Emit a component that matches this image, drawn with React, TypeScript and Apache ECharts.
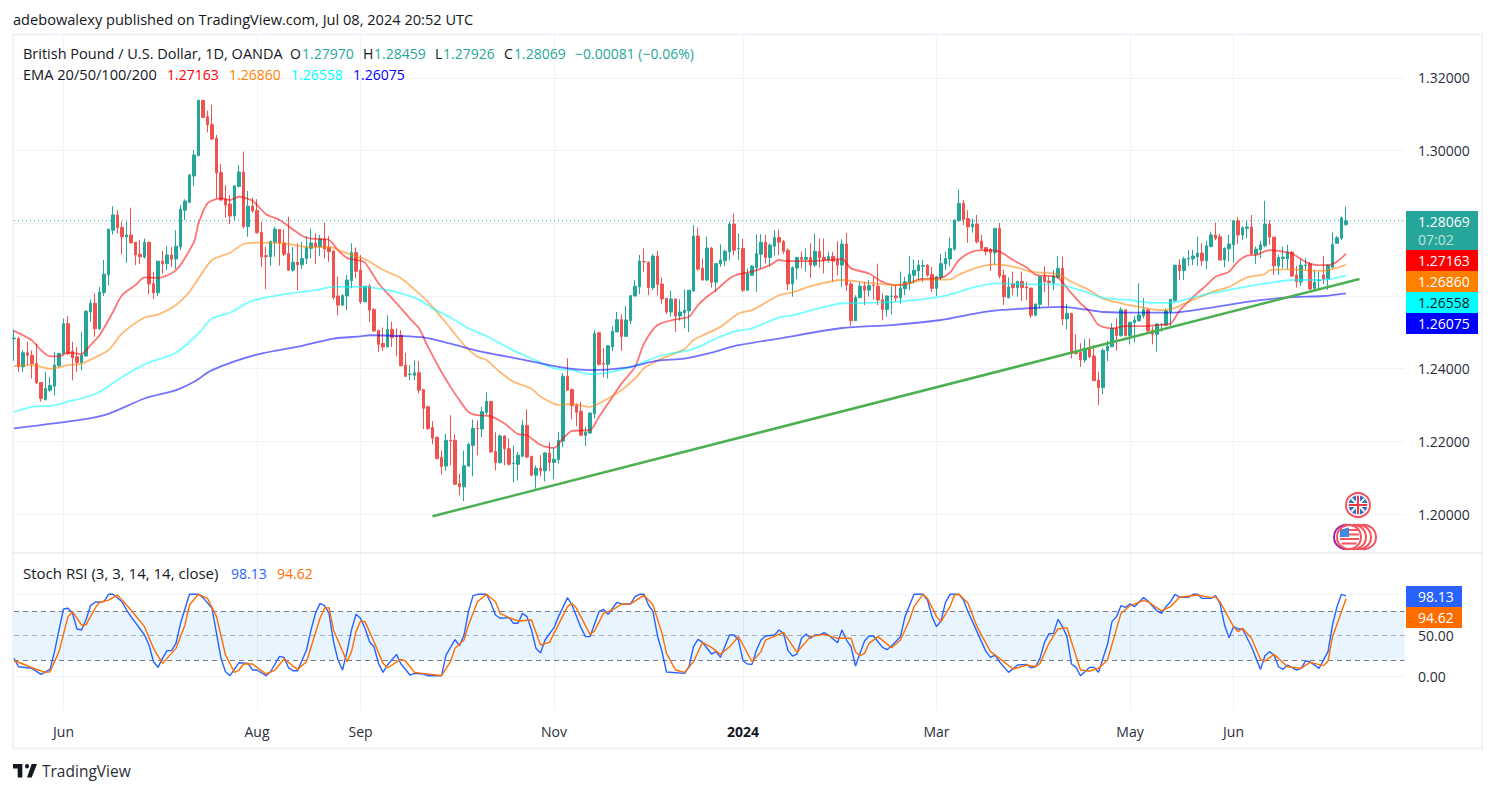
import React, { useEffect, useRef } from "react";
import * as echarts from "echarts";

// OHLC in pips (price x 10000): [open, high, low, close]
const ohlcA = [
[12482,12508,12422,12484],[12483,12488,12391,12405],[12405,12451,12391,12444],[12444,12474,12410,12437],[12437,12451,12373,12414],[12414,12469,12359,12361],[12362,12362,12309,12318],[12315,12391,12313,12345],[12341,12377,12336,12354],[12352,12446,12327,12410],
[12408,12444,12405,12442],[12442,12538,12437,12524],[12524,12545,12437,12442],[12448,12474,12368,12430],[12433,12460,12391,12417],[12417,12501,12396,12437],[12435,12561,12433,12558],[12556,12590,12529,12580],[12580,12607,12488,12510],[12510,12625,12506,12611],
[12609,12699,12600,12660],[12658,12784,12630,12784],[12781,12847,12769,12823],[12823,12836,12772,12788],[12789,12804,12714,12763],[12763,12804,12691,12768],[12768,12843,12745,12746],[12748,12748,12685,12713],[12715,12754,12688,12708],[12707,12758,12703,12748],
[12748,12749,12605,12633],[12634,12667,12592,12609],[12609,12696,12600,12696],[12696,12724,12662,12689],[12689,12737,12671,12713],[12713,12735,12680,12701],[12702,12781,12674,12737],[12735,12850,12726,12839],[12836,12866,12809,12861],[12858,12936,12855,12933],
[12930,13002,12903,12988],[12986,13141,12986,13138],[13138,13138,13091,13091],[13093,13110,13050,13071],[13072,13126,13029,13032],[13034,13043,12869,12939],[12940,12963,12862,12864],[12866,12905,12816,12850],[12853,12878,12798,12820],[12820,12905,12809,12903],
[12901,12960,12899,12941],[12941,12997,12786,12791],[12791,12889,12763,12847],[12847,12871,12829,12834],[12835,12866,12772,12774],[12775,12804,12680,12708],[12711,12735,12619,12708],[12708,12752,12683,12750],[12748,12791,12708,12784],[12783,12783,12683,12746],
[12746,12783,12710,12715],[12717,12818,12669,12671],[12671,12735,12667,12693],[12693,12745,12616,12686],[12686,12749,12674,12703],[12703,12765,12688,12733],[12731,12786,12703,12746],[12746,12772,12688,12735],[12735,12768,12710,12757],[12757,12802,12703,12729],
[12733,12765,12694,12722],[12724,12724,12590,12596],[12600,12653,12547,12575],[12575,12605,12572,12601],[12600,12657,12561,12644],[12642,12745,12621,12720],[12720,12734,12648,12668],
];
const ohlcB = [
[12671,12713,12578,12584],[12584,12627,12583,12627],[12627,12633,12529,12561],[12563,12566,12501,12504],[12506,12506,12446,12467],[12469,12513,12449,12460],[12460,12547,12460,12508],[12508,12529,12460,12486],[12489,12511,12434,12488],[12492,12506,12407,12408],
[12410,12444,12377,12379],[12384,12410,12368,12385],[12382,12423,12368,12389],[12389,12421,12332,12341],[12343,12343,12234,12291],[12295,12299,12232,12235],[12238,12256,12192,12209],[12211,12214,12150,12153],[12156,12175,12109,12131],[12132,12221,12119,12203],
[12203,12272,12134,12201],[12203,12220,12081,12082],[12084,12111,12052,12075],[12075,12175,12036,12133],[12132,12196,12130,12192],[12189,12260,12104,12236],[12236,12258,12162,12235],[12234,12295,12212,12282],[12280,12335,12272,12310],[12310,12310,12169,12171],
[12172,12225,12120,12142],[12142,12219,12139,12215],[12215,12217,12134,12180],[12180,12208,12134,12137],[12139,12189,12088,12140],[12137,12171,12093,12162],[12159,12258,12157,12244],[12244,12288,12154,12157],[12159,12159,12104,12107],[12107,12134,12070,12126],
[12126,12162,12104,12119],[12119,12171,12090,12168],[12168,12198,12119,12142],[12142,12180,12096,12151],[12150,12226,12139,12203],[12201,12388,12185,12379],[12379,12429,12339,12341],[12343,12345,12261,12298],[12299,12304,12242,12280],[12283,12309,12214,12217],
[12217,12240,12187,12225],[12223,12280,12221,12278],[12276,12506,12263,12497],[12499,12501,12408,12412],[12414,12457,12377,12413],[12412,12465,12373,12463],[12460,12517,12449,12503],[12501,12556,12501,12535],[12535,12549,12449,12489],[12489,12572,12489,12534],
[12532,12602,12523,12601],[12600,12644,12600,12627],[12625,12713,12605,12696],[12695,12731,12667,12694],[12693,12695,12602,12623],[12623,12715,12616,12710],[12710,12724,12602,12632],[12633,12651,12579,12592],[12594,12594,12550,12556],[12556,12614,12543,12592],
[12592,12592,12501,12545],[12545,12591,12532,12556],[12554,12618,12511,12561],[12559,12616,12501,12616],[12614,12795,12612,12765],[12765,12788,12669,12674],[12676,12703,12642,12644],
];
const ohlcC = [
[12644,12763,12641,12732],[12732,12735,12623,12638],[12638,12689,12611,12689],[12688,12742,12680,12699],[12697,12728,12682,12723],[12722,12804,12699,12798],[12798,12827,12712,12726],[12730,12772,12699,12731],[12731,12758,12611,12616],[12616,12676,12614,12662],
[12657,12685,12657,12682],[12678,12769,12611,12717],[12715,12770,12676,12748],[12748,12768,12689,12706],[12706,12745,12682,12740],[12737,12781,12712,12761],[12761,12783,12712,12748],[12750,12754,12715,12723],[12726,12731,12616,12633],[12633,12682,12598,12678],
[12677,12708,12646,12706],[12706,12722,12676,12701],[12701,12731,12667,12706],[12706,12745,12650,12685],[12685,12772,12680,12723],[12723,12758,12678,12705],[12706,12758,12662,12699],[12699,12722,12691,12709],[12709,12722,12639,12696],[12699,12751,12657,12685],
[12685,12756,12625,12743],[12743,12774,12614,12630],[12633,12639,12518,12532],[12532,12602,12532,12596],[12596,12639,12593,12627],[12627,12639,12575,12616],[12616,12644,12598,12629],[12629,12653,12590,12628],[12627,12689,12575,12589],[12590,12607,12533,12563],
[12563,12602,12543,12600],[12599,12627,12549,12600],[12600,12630,12584,12595],[12595,12667,12579,12622],[12620,12653,12602,12639],[12636,12710,12616,12660],[12657,12701,12634,12671],[12669,12699,12644,12685],[12682,12699,12639,12684],[12685,12688,12653,12657],
[12659,12680,12611,12621],[12621,12655,12600,12653],[12651,12715,12644,12689],[12688,12722,12671,12703],[12702,12761,12682,12731],[12729,12811,12724,12809],[12807,12893,12804,12855],[12855,12864,12795,12811],[12813,12836,12746,12790],[12790,12813,12774,12798],
[12798,12823,12745,12749],[12751,12768,12726,12731],[12733,12735,12712,12722],[12729,12731,12669,12719],[12719,12786,12685,12786],[12786,12801,12648,12655],[12657,12673,12575,12598],[12596,12651,12593,12625],[12634,12667,12602,12623],[12623,12640,12598,12640],
[12640,12667,12587,12623],[12625,12639,12589,12622],[12622,12622,12540,12547],[12547,12579,12544,12578],[12577,12655,12566,12653],[12653,12682,12611,12639],[12641,12653,12572,12637],[12636,12671,12616,12655],[12651,12710,12648,12676],
];
const ohlcD = [
[12676,12708,12520,12537],[12537,12578,12509,12552],[12552,12554,12428,12442],[12447,12495,12438,12442],[12445,12470,12405,12424],[12424,12482,12416,12456],[12456,12483,12428,12433],[12435,12465,12367,12367],[12369,12392,12300,12348],[12348,12456,12330,12451],
[12450,12477,12421,12462],[12461,12525,12459,12511],[12511,12539,12450,12491],[12491,12569,12488,12562],[12562,12563,12490,12491],[12491,12528,12467,12528],[12527,12545,12472,12534],[12532,12635,12529,12548],[12545,12594,12539,12562],[12562,12563,12500,12504],
[12506,12516,12467,12495],[12495,12525,12447,12523],[12521,12525,12502,12522],[12520,12566,12518,12559],[12557,12591,12511,12591],[12588,12685,12583,12685],[12685,12701,12644,12670],[12670,12708,12644,12702],[12702,12727,12683,12704],[12702,12727,12685,12710],
[12708,12763,12683,12718],[12718,12745,12683,12697],[12697,12752,12675,12738],[12736,12777,12734,12768],[12768,12802,12754,12759],[12763,12771,12699,12699],[12699,12734,12679,12731],[12730,12768,12695,12743],[12741,12809,12692,12807],[12807,12817,12743,12768],
[12768,12791,12754,12788],[12786,12809,12759,12790],[12790,12823,12713,12716],[12716,12736,12688,12729],[12727,12752,12704,12741],[12738,12862,12734,12798],[12798,12808,12741,12762],[12762,12762,12658,12683],[12683,12713,12658,12706],[12703,12736,12676,12707],
[12702,12741,12674,12721],[12720,12724,12653,12655],[12658,12683,12623,12639],[12639,12701,12628,12685],[12684,12704,12672,12685],[12688,12692,12617,12619],[12621,12672,12614,12638],[12642,12667,12617,12644],[12658,12710,12633,12646],[12648,12687,12617,12685],
[12679,12775,12676,12742],[12745,12765,12745,12760],[12759,12819,12754,12815],[12797,12846,12793,12807],
];

// EMA lines: [bar index, price]
const ema20 = [[0,1.2504],[2,1.2492],[4,1.2478],[6,1.2451],[8,1.2434],[10,1.2434],[12,1.2444],[15,1.2440],[17,1.2465],[19,1.2492],[22,1.2556],[24,1.2602],[27,1.2630],[29,1.2651],[32,1.2650],[36,1.2671],[40,1.2749],[41,1.2800],[43,1.2855],[46,1.2869],[48,1.2864],[50,1.2873],[53,1.2862],[56,1.2825],[59,1.2809],[64,1.2766],[66,1.2758],[70,1.2754],[72,1.2726],[74,1.2705],[77,1.2697],[78,1.2692],[81,1.2635],[83,1.2607],[85,1.2580],[88,1.2538],[90,1.2511],[92,1.2460],[95,1.2391],[97,1.2350],[99,1.2313],[101,1.2281],[103,1.2272],[106,1.2269],[109,1.2249],[112,1.2220],[114,1.2217],[117,1.2190],[120,1.2182],[122,1.2208],[124,1.2229],[128,1.2231],[130,1.2268],[132,1.2304],[135,1.2359],[138,1.2405],[140,1.2469],[143,1.2520],[147,1.2536],[150,1.2543],[152,1.2575],[154,1.2598],[156,1.2616],[159,1.2648],[161,1.2660],[164,1.2667],[168,1.2685],[170,1.2699],[172,1.2696],[177,1.2696],[181,1.2699],[184,1.2702],[186,1.2676],[190,1.2662],[193,1.2639],[196,1.2630],[199,1.2635],[201,1.2646],[206,1.2650],[208,1.2664],[210,1.2699],[213,1.2722],[216,1.2726],[219,1.2722],[222,1.2699],[225,1.2679],[227,1.2659],[230,1.2655],[232,1.2651],[235,1.2607],[237,1.2580],[239,1.2557],[241,1.2520],[244,1.2511],[247,1.2517],[251,1.2517],[254,1.2520],[257,1.2524],[259,1.2559],[262,1.2597],[265,1.2630],[267,1.2653],[270,1.2667],[272,1.2695],[274,1.2711],[276,1.2713],[279,1.2726],[282,1.2722],[284,1.2717],[287,1.2694],[290,1.2685],[292,1.2685],[294,1.2694],[296,1.27163]];
const ema50 = [[0,1.2408],[4,1.2410],[8,1.2400],[12,1.2410],[15,1.2414],[18,1.2431],[21,1.2451],[24,1.2497],[29,1.2541],[32,1.2549],[36,1.2575],[39,1.2612],[41,1.2648],[44,1.2699],[48,1.2719],[51,1.2743],[54,1.2747],[60,1.2745],[65,1.2735],[70,1.2735],[73,1.2722],[75,1.2713],[78,1.2701],[82,1.2672],[86,1.2649],[90,1.2607],[93,1.2570],[97,1.2511],[100,1.2465],[103,1.2433],[105,1.2424],[108,1.2391],[111,1.2364],[115,1.2345],[117,1.2323],[121,1.2300],[124,1.2304],[128,1.2295],[132,1.2318],[135,1.2341],[138,1.2373],[140,1.2401],[144,1.2428],[149,1.2454],[151,1.2479],[157,1.2515],[161,1.2552],[164,1.2561],[170,1.2602],[173,1.2610],[177,1.2627],[184,1.2644],[190,1.2636],[196,1.2630],[202,1.2644],[208,1.2646],[210,1.2659],[214,1.2678],[218,1.2687],[223,1.2678],[226,1.2667],[232,1.2660],[235,1.2639],[239,1.2616],[242,1.2593],[246,1.2580],[250,1.2570],[255,1.2561],[257,1.2563],[261,1.2584],[266,1.2610],[270,1.2625],[274,1.2651],[278,1.2660],[279,1.2671],[284,1.2673],[290,1.2669],[293,1.2674],[296,1.26860]];
const ema100 = [[0,1.2281],[4,1.2295],[9,1.2299],[12,1.2310],[15,1.2318],[19,1.2336],[24,1.2377],[29,1.2412],[36,1.2444],[41,1.2497],[44,1.2538],[48,1.2554],[53,1.2587],[60,1.2605],[67,1.2616],[71,1.2625],[77,1.2625],[79,1.2624],[84,1.2614],[90,1.2590],[93,1.2566],[97,1.2541],[101,1.2511],[105,1.2490],[110,1.2456],[115,1.2428],[120,1.2401],[124,1.2396],[128,1.2385],[132,1.2389],[137,1.2405],[140,1.2419],[144,1.2437],[150,1.2451],[153,1.2465],[156,1.2483],[160,1.2502],[164,1.2511],[170,1.2541],[173,1.2547],[178,1.2563],[184,1.2580],[190,1.2581],[198,1.2586],[207,1.2601],[213,1.2623],[218,1.2635],[226,1.2632],[232,1.2632],[235,1.2623],[238,1.2612],[242,1.2595],[248,1.2589],[253,1.2581],[257,1.2581],[261,1.2593],[266,1.2607],[273,1.2624],[279,1.2636],[284,1.2644],[290,1.2644],[293,1.2648],[296,1.26558]];
const ema200 = [[0,1.2236],[15,1.2260],[21,1.2276],[29,1.2318],[36,1.2341],[40,1.2364],[44,1.2396],[54,1.2439],[64,1.2463],[71,1.2483],[77,1.2489],[79,1.2492],[86,1.2490],[91,1.2486],[97,1.2469],[103,1.2449],[108,1.2437],[113,1.2425],[121,1.2405],[128,1.2396],[136,1.2403],[143,1.2422],[149,1.2428],[155,1.2444],[160,1.2462],[170,1.2483],[184,1.2512],[195,1.2520],[206,1.2534],[215,1.2555],[219,1.2561],[228,1.2568],[233,1.2570],[238,1.2563],[242,1.2556],[250,1.2554],[257,1.2554],[265,1.2566],[274,1.2584],[283,1.2596],[291,1.2600],[296,1.26075]];
const trendLine = [[93,1.1994],[299,1.2647]];
const lastClose = 1.28069;

// Stoch RSI: [bar index, value]
const stochK = [[0,22.3],[1,12.1],[3,10.9],[4,10.1],[6,2.8],[8,8.9],[9,30.4],[10,56.7],[11,82.2],[12,83],[13,76.9],[14,57.9],[15,56.7],[16,68.8],[17,86.2],[18,90.3],[20,91.1],[21,100],[22,100],[24,91],[25,81],[26,72.9],[29,50.6],[30,38.5],[31,18.2],[32,11.3],[33,22.3],[34,31.6],[35,31.6],[36,40.5],[37,64.8],[39,100],[41,100],[42,96],[44,83],[45,52.6],[46,22.3],[47,6],[48,1.2],[50,17],[52,16.2],[53,8.1],[54,8.1],[56,1.2],[57,6],[59,24.7],[60,23.5],[61,10.9],[62,7.3],[63,7.3],[65,32.4],[66,56.7],[67,76.9],[68,89],[69,86.2],[70,76.9],[71,42.5],[72,20.2],[73,8.1],[74,30.4],[75,56.7],[76,75.7],[77,70.9],[78,58.7],[79,42.5],[80,36.4],[81,16.2],[82,5.3],[83,14.2],[85,27.1],[86,15.4],[88,2],[89,4],[91,3.2],[92,1.2],[95,1.2],[96,26.3],[98,44.9],[99,37.7],[100,50.6],[101,79],[102,98.4],[103,100],[105,100],[106,89],[107,74.9],
[108,70.9],[110,71.7],[111,64.8],[112,64.8],[113,76.9],[114,72.9],[115,56.7],[116,34.4],[117,28.7],[118,44.5],[120,59.5],[121,72.9],[123,96],[124,87],[126,59.5],[127,48.6],[128,48.6],[130,78.9],[131,81.8],[132,75.7],[134,90.3],[135,88.3],[137,88.3],[138,97.2],[139,100],[140,100],[141,87],[142,78.9],[143,49.4],[144,30.4],[145,5.7],[149,4],[150,12.1],[151,36.4],[152,45.3],[153,41.7],[155,27.5],[156,30.4],[157,23.5],[159,50.6],[160,50.6],[161,44.5],[162,19.4],[163,15.4],[164,15],[165,32.4],[166,44.5],[167,49.4],[169,50.6],[170,56.7],[171,52.6],[172,31.6],[173,25.1],[174,27.5],[175,46.6],[176,51.8],[177,46.6],[178,50.6],[179,50.6],[180,53.4],[181,50.6],[183,41.3],[184,56.7],[185,44.5],[186,36.4],[187,13],[188,28.3],[189,43.3],[190,49.4],[191,49.4],[193,35.6],[194,32.8],[195,37.2],[197,48.6],[198,72.9],[200,100],[202,100],[203,93.1],[204,72.9],[205,60.7],[206,67.6],[207,90.3],[208,100],[210,100],[211,93.1],[212,78.9],[214,54.7],[216,30.4],[217,23.5],[218,26.3],[219,18.2],
[221,5.3],[223,14.2],[225,15],[226,10.9],[227,12.1],[228,22.3],[229,41.7],[230,52.2],[231,52.6],[232,69.6],[233,60.7],[234,48.6],[235,15.4],[236,11.3],[237,1.2],[239,11.3],[240,11.3],[241,5.3],[243,39.3],[244,66.8],[245,72.9],[246,86.2],[247,84.2],[248,88.3],[249,85],[251,96],[252,91.9],[254,79.8],[255,76.9],[256,85],[257,91.1],[258,100],[259,96.4],[261,96.4],[262,100],[263,100],[264,95],[266,95],[267,98.4],[268,89],[269,62.8],[270,47.4],[271,60.7],[272,57.9],[273,57.9],[275,36.4],[277,8.9],[278,25.5],[279,30.4],[280,26.3],[281,12.1],[282,8.9],[283,14.2],[285,8.1],[286,10.1],[287,19],[288,18.2],[290,10.1],[292,30.4],[293,62.8],[294,85],[295,100],[296,98.13]];
const stochD = [[0,19.4],[2,15.4],[4,10.9],[7,5.3],[8,6],[10,30.4],[12,72.9],[13,78.9],[15,62.8],[16,62.8],[18,83],[19,90.3],[21,93],[23,99],[26,81],[29,60.7],[31,34.4],[33,16.2],[36,34.4],[38,62.8],[39,87],[41,100],[43,95],[45,72.9],[47,26.3],[49,5.3],[50,8.1],[51,15.4],[53,15.4],[56,3.2],[58,8.1],[60,21.5],[63,8.9],[65,18.2],[68,70.9],[69,83],[70,83.8],[71,56.7],[74,18.2],[75,30.4],[76,54.7],[77,67.6],[78,66.8],[80,42.5],[82,16.2],[83,10.9],[86,21],[87,19],[89,5.3],[95,1.2],[97,18.2],[98,34.4],[100,44.5],[101,62.8],[103,91],[105,100],[107,91],
[108,76.9],[110,71.7],[112,67.6],[115,68.8],[117,38.5],[119,41.7],[123,85],[124,89],[125,83],[128,51.4],[129,55.5],[131,76.9],[133,81],[135,87.9],[137,88.3],[140,99],[142,87],[144,52.6],[145,28.3],[147,8.1],[149,5.3],[151,18.2],[153,41.7],[155,35.6],[157,27.1],[159,36.4],[161,48.6],[164,18.2],[166,30.4],[167,44.5],[171,53.8],[174,29.6],[177,48.6],[180,51.4],[183,46.6],[186,46.6],[187,30.4],[188,25.5],[189,28.3],[190,40.5],[192,48.6],[195,35.2],[197,44.5],[199,68.8],[200,85],[202,100],[203,95],[205,72.9],[206,66.8],[208,85],[209,99],[210,100],[212,89],[214,60.7],[217,30.4],[219,22.3],
[222,9.3],[225,14.2],[227,12.1],[228,16.2],[230,40.5],[232,57.9],[234,59.5],[237,8.1],[239,6.9],[241,10.1],[243,20.2],[246,76.9],[248,86.2],[251,92.3],[252,91],[255,79.8],[257,85],[259,96.4],[263,99.2],[266,96],[267,97.2],[268,91],[271,60.7],[272,54.7],[273,58.7],[275,46.6],[277,21],[278,19],[280,27.1],[283,12.1],[286,10.1],[288,17.4],[291,13.4],[292,19],[293,48.6],[295,78.9],[296,94.62]];

const priceGridLevels = [1.2, 1.22, 1.24, 1.26, 1.28, 1.3, 1.32];
const priceTickLabels = [1.2, 1.22, 1.24, 1.3, 1.32];
const stochTickLabels = [0, 50];
const stochGridLevels = [0, 100];
const stochDashed = [20, 80];
const stochMid = [50];
const SLOTS = 310;
const categories = Array.from({ length: SLOTS }, (_, i) => String(i));
const monthIndex = [11, 54, 77, 120, 162, 205, 248, 271];
const monthLabels = ["Jun", "Aug", "Sep", "Nov", "2024", "Mar", "May", "Jun"];

const FONT = "'Open Sans', sans-serif";
const TEXT = "#131722";
const UP = "#26a69a";
const DOWN = "#ef5350";

echarts.graphic.registerShape(
  "tvlogo",
  echarts.graphic.extendPath(
    "M14 0H0v6h7v12h7V0z M28 18h-7l7-18h8l-8 18z M21 6a3 3 0 1 0 0-6 3 3 0 0 0 0 6z",
    {}
  )
);

function txt(text: string, x: number, y: number, fill: string, size = 14, align = "left", extra: any = {}) {
  return {
    type: "text",
    z: 100,
    style: { text, x, y: y - 1, fill, font: `${size}px ${FONT}`, align, verticalAlign: "middle", ...extra },
  };
}
function box(x: number, y: number, w: number, h: number, fill: string) {
  return { type: "rect", z: 90, shape: { x, y, width: w, height: h }, style: { fill } };
}
function ring(cx: number, cy: number, r: number, stroke: string, fill = "#fff", width = 2) {
  return { type: "circle", z: 80, shape: { cx, cy, r }, style: { fill, stroke, lineWidth: width } };
}
function seg(x1: number, y1: number, x2: number, y2: number, stroke: string, lineWidth: number) {
  return { type: "line", z: 81, shape: { x1, y1, x2, y2 }, style: { stroke, lineWidth } };
}

function buildGraphics() {
  const g: any[] = [];
  // frame
  const frame = "#f0f3fa";
  g.push({ type: "rect", z: 1, shape: { x: 13, y: 34.5, width: 1469, height: 714 }, style: { fill: "none", stroke: frame, lineWidth: 2 } });
  g.push({ type: "line", z: 1, shape: { x1: 13, y1: 553, x2: 1482, y2: 553 }, style: { stroke: "#e0e3eb", lineWidth: 1 } });

  // header
  g.push(txt("adebowalexy published on TradingView.com, Jul 08, 2024 20:52 UTC", 13, 20, TEXT, 14.6));
  g.push(txt("British Pound / U.S. Dollar, 1D, OANDA", 23, 54, TEXT, 14.5));
  const ohlcHead = [["O", 290, "1.27970", 302], ["H", 363, "1.28459", 374], ["L", 435, "1.27926", 443], ["C", 504, "1.28069", 514]] as const;
  ohlcHead.forEach(([a, ax, v, vx]) => {
    g.push(txt(a, ax, 54, TEXT));
    g.push(txt(v, vx, 54, UP));
  });
  g.push(txt("−0.00081 (−0.06%)", 575, 54, UP));
  g.push(txt("EMA 20/50/100/200", 23, 75, TEXT, 14.6));
  g.push(txt("1.27163", 167, 75, "#ff0000"));
  g.push(txt("1.26860", 229, 75, "#ff7f00"));
  g.push(txt("1.26558", 291, 75, "#00ffff"));
  g.push(txt("1.26075", 353, 75, "#0000ff"));
  g.push(txt("Stoch RSI (3, 3, 14, 14, close)", 23, 574, TEXT, 15));
  g.push(txt("98.13", 231, 574, "#2962ff"));
  g.push(txt("94.62", 277, 574, "#ff6d00"));

  // price tags
  g.push(box(1406, 211, 72, 39, "#26a69a"));
  g.push(txt("1.28069", 1418, 222, "#fff"));
  g.push(txt("07:02", 1418, 240, "rgba(255,255,255,0.7)"));
  g.push(box(1406, 250, 72, 21, "#ff0000"));
  g.push(txt("1.27163", 1418, 261, "#fff"));
  g.push(box(1406, 271, 72, 21, "#ff7f00"));
  g.push(txt("1.26860", 1418, 282, "#fff"));
  g.push(box(1406, 292, 72, 21, "#00ffff"));
  g.push(txt("1.26558", 1418, 303, TEXT));
  g.push(box(1406, 313, 72, 21, "#0000ff"));
  g.push(txt("1.26075", 1418, 324, "#fff"));
  g.push(box(1406, 586, 56, 21, "#2962ff"));
  g.push(txt("98.13", 1418, 597, "#fff"));
  g.push(box(1406, 607, 56, 21, "#ff6d00"));
  g.push(txt("94.62", 1418, 618, "#fff"));

  // flags
  g.push(ring(1358, 505, 12, "#f7525f"));
  g.push(ring(1358, 505, 9.5, "none", "#2f6fc4", 0));
  g.push(seg(1351.5, 498.5, 1364.5, 511.5, "#fff", 2));
  g.push(seg(1351.5, 511.5, 1364.5, 498.5, "#fff", 2));
  g.push(seg(1348.5, 505, 1367.5, 505, "#fff", 4));
  g.push(seg(1358, 495.5, 1358, 514.5, "#fff", 4));
  g.push(seg(1349, 505, 1367, 505, "#f23645", 2));
  g.push(seg(1358, 496, 1358, 514, "#f23645", 2));
  [1364, 1359, 1354].forEach((cx) => g.push(ring(cx, 537, 12, "#f7525f")));
  g.push(ring(1346, 537, 12, "#9c27b0"));
  g.push(ring(1349, 537, 12, "#f7525f"));
  g.push(seg(1341, 530, 1358, 530, "#f7525f", 2));
  g.push(seg(1340, 534.5, 1359, 534.5, "#f7525f", 2));
  g.push(seg(1340, 539, 1359, 539, "#f7525f", 2));
  g.push(seg(1341.5, 543.5, 1356.5, 543.5, "#f7525f", 2));
  g.push({ type: "sector", z: 82, shape: { cx: 1349, cy: 537, r: 9.5, r0: 0, startAngle: Math.PI, endAngle: Math.PI * 1.5 }, style: { fill: "#3f8ae0" } });
  g.push({ type: "rect", z: 82, shape: { x: 1340, y: 530, width: 9, height: 7 }, style: { fill: "#3f8ae0" } });

  // logo
  g.push({ type: "tvlogo", z: 100, x: 13, y: 764, scaleX: 0.667, scaleY: 0.75, style: { fill: TEXT } });
  g.push(txt("TradingView", 42, 772, "#2a2e39", 15.5));
  return g;
}

export default function App() {
  const ref = useRef<HTMLDivElement>(null);
  useEffect(() => {
    document.body.style.margin = "0";
    const chart = echarts.init(ref.current!, undefined, { renderer: "svg" });
    const ohlc = [...ohlcA, ...ohlcB, ...ohlcC, ...ohlcD];
    const candleData = ohlc.map(([o, h, l, c]) => [o / 1e4, c / 1e4, l / 1e4, h / 1e4]);
    const hLine = (v: number) => ({ yAxis: v });
    const monthSplit = {
      show: true,
      interval: (i: number) => monthIndex.includes(i),
      lineStyle: { color: "#f0f3fa", width: 1 },
    };
    const emaLine = (name: string, data: number[][], color: string) => ({
      name,
      type: "line",
      data,
      xAxisIndex: 0,
      yAxisIndex: 0,
      showSymbol: false,
      smooth: 0.25,
      z: 3,
      lineStyle: { color, width: 1.8, opacity: 0.55 },
    });
    chart.setOption({
      animation: false,
      backgroundColor: "#ffffff",
      textStyle: { fontFamily: FONT },
      grid: [
        { left: 14, top: 35, width: 1390.5, height: 518 },
        { left: 14, top: 554, width: 1390.5, height: 156 },
      ],
      xAxis: [
        {
          type: "category", gridIndex: 0, data: categories, boundaryGap: false,
          axisLine: { show: false }, axisTick: { show: false }, axisLabel: { show: false },
          splitLine: monthSplit,
        },
        {
          type: "category", gridIndex: 1, data: categories, boundaryGap: false,
          axisLine: { show: false }, axisTick: { show: false },
          splitLine: monthSplit,
          axisLabel: {
            show: true,
            interval: (i: number) => monthIndex.includes(i),
            margin: 14,
            color: "#2a2e39",
            fontSize: 14,
            fontFamily: FONT,
            formatter: (v: string) => {
              const k = monthIndex.indexOf(Number(v));
              const label = k >= 0 ? monthLabels[k] : "";
              return label === "2024" ? `{b|${label}}` : label;
            },
            rich: { b: { fontWeight: 700, fontSize: 14, color: "#131722", fontFamily: FONT } },
          },
        },
      ],
      yAxis: [
        {
          type: "value", gridIndex: 0, position: "right", min: 1.1893, max: 1.3318,
          axisLine: { show: false }, axisTick: { show: false }, splitLine: { show: false },
          axisLabel: {
            customValues: priceTickLabels, margin: 13.5, color: "#2a2e39", fontSize: 14, fontFamily: FONT,
            formatter: (v: number) => v.toFixed(5),
          },
        },
        {
          type: "value", gridIndex: 1, position: "right", min: -40.4, max: 148.9,
          axisLine: { show: false }, axisTick: { show: false }, splitLine: { show: false },
          axisLabel: {
            customValues: stochTickLabels, margin: 13.5, color: "#2a2e39", fontSize: 14, fontFamily: FONT,
            formatter: (v: number) => v.toFixed(2),
          },
        },
      ],
      graphic: { elements: buildGraphics() },
      series: [
        {
          name: "priceGrid", type: "line", xAxisIndex: 0, yAxisIndex: 0, data: [[0, priceGridLevels[3]]],
          showSymbol: false, lineStyle: { opacity: 0 }, z: 0, silent: true,
          markLine: {
            z: 0, silent: true, symbol: "none", label: { show: false },
            lineStyle: { color: "#f0f3fa", width: 1, type: "solid" },
            data: priceGridLevels.map(hLine),
          },
        },
        {
          name: "LastPrice", type: "line", xAxisIndex: 0, yAxisIndex: 0,
          data: [[0, lastClose], [SLOTS - 1, lastClose]],
          showSymbol: false, silent: true, z: 1,
          lineStyle: { color: UP, width: 1, type: [1, 3] },
        },
        {
          name: "GBPUSD", type: "candlestick", xAxisIndex: 0, yAxisIndex: 0, data: candleData,
          barWidth: 3, z: 2, clip: false,
          itemStyle: { color: UP, color0: DOWN, borderColor: UP, borderColor0: DOWN, borderWidth: 1 },
        },
        emaLine("EMA20", ema20, "#ff0000"),
        emaLine("EMA50", ema50, "#ff7f00"),
        emaLine("EMA100", ema100, "#00ffff"),
        emaLine("EMA200", ema200, "#0000ff"),
        {
          name: "Trend", type: "line", xAxisIndex: 0, yAxisIndex: 0, data: trendLine,
          showSymbol: false, z: 4, lineStyle: { color: "#4caf50", width: 2.5 },
        },
        {
          name: "stochGrid", type: "line", xAxisIndex: 1, yAxisIndex: 1, data: [[0, stochMid[0]]],
          showSymbol: false, lineStyle: { opacity: 0 }, z: 0, silent: true,
          markArea: {
            z: 0, silent: true, itemStyle: { color: "rgba(33,150,243,0.1)" },
            data: [[{ yAxis: stochDashed[0] }, { yAxis: stochDashed[1] }]],
          },
          markLine: {
            z: 1, silent: true, symbol: "none", label: { show: false },
            data: [
              ...stochGridLevels.map((v) => ({ yAxis: v, lineStyle: { color: "#f0f3fa", width: 1, type: "solid" } })),
              ...stochDashed.map((v) => ({ yAxis: v, lineStyle: { color: "#787b86", width: 1, type: [5, 4] } })),
              ...stochMid.map((v) => ({ yAxis: v, lineStyle: { color: "#a8abb4", width: 1, type: [5, 4] } })),
            ],
          },
        },
        {
          name: "%K", type: "line", xAxisIndex: 1, yAxisIndex: 1, data: stochK, showSymbol: false, z: 3,
          lineStyle: { color: "#2962ff", width: 1.4 },
        },
        {
          name: "%D", type: "line", xAxisIndex: 1, yAxisIndex: 1, data: stochD, showSymbol: false, z: 4,
          lineStyle: { color: "#ff6d00", width: 1.4 },
        },
      ],
    });
    return () => chart.dispose();
  }, []);
  return <div ref={ref} style={{ width: 1496, height: 793 }} />;
}
